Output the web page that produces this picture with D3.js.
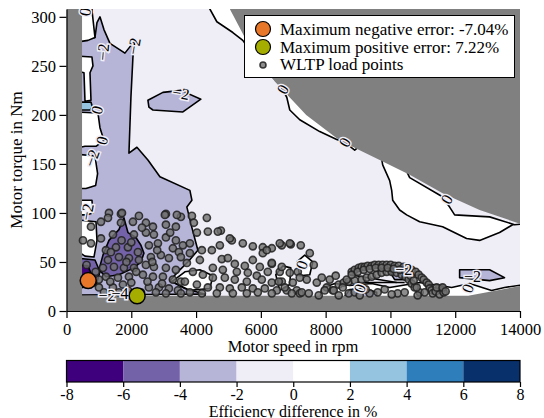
<!DOCTYPE html>
<html>
<head>
<meta charset="utf-8">
<title>Efficiency difference map</title>
<style>
body { margin: 0; background: #fff; }
text { font-family: "Liberation Serif", "Times New Roman", serif; fill: #000; }
.axis text { font-size: 16.5px; }
.axis .domain, .axis line { stroke: #000; stroke-width: 1.2px; }
.contour { stroke: #000; stroke-width: 1.6px; stroke-linejoin: round; }
.wltp { fill: #707070; fill-opacity: 0.8; stroke: #202020; stroke-width: 1.6px; stroke-opacity: 0.85; }
.clabel { font-size: 16px; paint-order: stroke; stroke: #efedf5; stroke-width: 3px; }
</style>
</head>
<body>
<script src="https://cdn.jsdelivr.net/npm/d3@7"></script>
<script>

// colour levels of the efficiency difference (in %)
var levels = [-8, -6, -4, -2, 0, 2, 4, 6, 8];
var levelColors = ["#3f007d", "#7462a9", "#b6b5d8", "#efedf5", "#ffffff", "#95c4e0", "#2f7ebc", "#08306b"];

// operating envelope of the motor (rpm / Nm)
var envSpeed     = [480, 4700, 5042, 5505, 6430, 7400, 8435, 9668, 10594, 11611, 12753, 14000];
var envMaxTorque = [330, 330, 308, 279, 234, 200, 174, 154, 139, 120, 103, 89];
var envMinSpeed  = [480, 12400, 14000];
var envMinTorque = [15.5, 15.5, 25.5];

// contour regions [rpm, Nm], band = mean value of the region
var lavenderLeft = [[260,274],[663,278],[879,279],[941,294],[1033,300],[1156,287],[1342,273],[1804,263],[2113,276],[2051,259],[1989,218],[1928,161],[2174,167],[2513,154],[2884,137],[3809,123],[3871,113],[3716,106],[3871,85],[4056,62],[3747,50],[3500,42],[3192,31],[3655,23],[4271,17],[4271,6],[260,6]];
var whiteTopLeft = [[262,317],[817,317],[786,307],[879,279],[663,276],[262,274]];
var whiteBand    = [[293,260],[786,259],[817,250],[725,243],[756,215],[571,214],[540,243],[293,245]];
var blueSpot     = [[293,213],[756,213],[800,208],[725,205],[293,205]];
var whiteLeft1   = [[293,203],[971,202],[1033,187],[1156,174],[910,168],[571,168],[293,166]];
var whiteLeft1b  = [[293,160],[880,158],[960,140],[900,128],[600,125],[293,125]];
var whiteLeft2   = [[293,113],[786,113],[817,100],[602,98],[293,98]];
var whiteLeft3   = [[293,93],[910,91],[941,72],[848,55],[571,56],[293,62]];
var purpleLow    = [[293,54],[879,52],[1033,40],[910,26],[293,23]];
var purpleCore   = [[293,47],[663,46],[786,36],[571,29],[293,29]];
var purpleBlob   = [[1002,42],[1126,57],[1311,72],[1619,83],[1773,95],[1897,80],[2143,75],[2298,67],[2390,59],[2298,50],[2082,44],[1619,37],[1218,35]];
var islandMid    = [[2513,215],[2976,223],[3531,225],[4148,216],[3593,203],[2668,205],[2544,208]];
var whiteEdge1   = [[4300,330],[4426,308],[4642,295],[5135,284],[5443,276],[5950,252],[6584,231],[6800,218],[6893,205],[7201,195],[7818,183],[8342,175],[8589,172],[8897,164],[9300,175],[9300,340],[4300,340]];
var whiteEdge2   = [[9500,200],[9761,149],[9977,133],[10039,123],[10070,113],[10285,103],[10501,98],[10902,91],[11611,86],[12351,74],[12753,72],[13369,80],[13771,88],[14500,95],[14500,200]];
var lightEdge    = [[10100,170],[10594,136],[11580,117],[11828,106],[11982,98],[13061,96],[13832,88],[14500,90],[14500,170]];
var whiteLow1    = [[3254,30],[3655,40],[4117,42],[4518,36],[4426,23],[3809,21]];
var whiteLow2    = [[6461,37],[6677,46],[6924,44],[6893,27],[6584,21]];
var whiteLow3    = [[7109,50],[7355,57],[7602,50],[7510,37],[7201,36]];
var whiteBottom  = [[7818,11],[7880,23],[8280,28],[8743,26],[9422,28],[9977,24],[10902,29],[11519,26],[11890,24],[12444,28],[13123,21],[13523,24],[14150,27],[14150,11]];
var lavLow1      = [[8589,15],[8743,22],[9206,23],[9576,19],[9576,11],[8589,11]];
var lavLow2      = [[9946,42],[10285,46],[10655,42],[10594,32],[10131,32]];
var lavLow3      = [[12136,42],[13061,42],[13523,34],[13061,31],[12136,34]];
var bottomStrip  = [[416,16.3],[4271,17.3],[4271,6],[416,6]];
var openLine1    = [[8743,37],[10193,29]];
var openLine2    = [[8897,29],[10440,29]];

var regions = [
  {band: -3, pts: lavenderLeft}, {band: 1, pts: whiteTopLeft}, {band: 1, pts: whiteBand},
  {band: 3, pts: blueSpot}, {band: 1, pts: whiteLeft1}, {band: 1, pts: whiteLeft1b},
  {band: 1, pts: whiteLeft2}, {band: 1, pts: whiteLeft3}, {band: -5, pts: purpleLow},
  {band: -7, pts: purpleCore}, {band: -5, pts: purpleBlob}, {band: -3, pts: islandMid},
  {band: 1, pts: whiteEdge1}, {band: 1, pts: whiteEdge2}, {band: -1, pts: lightEdge},
  {band: 1, pts: whiteLow1}, {band: 1, pts: whiteLow2}, {band: 1, pts: whiteLow3},
  {band: 1, pts: whiteBottom}, {band: -3, pts: lavLow1}, {band: -3, pts: lavLow2},
  {band: -3, pts: lavLow3}, {band: -1, pts: bottomStrip}
];
var openLines = [openLine1, openLine2];

// contour labels
var labelSpeed  = [571, 1126, 2082, 3531, 6677, 8589, 11735, 786, 941, 1095, 632, 1249, 1650, 7263, 9052, 10409, 12537, 12382];
var labelTorque = [305, 264, 270, 222, 226, 172, 114, 156, 205, 174, 101, 16, 18, 47, 23, 42, 35, 23];
var labelText   = ["0","\u22122","\u22122","\u22122","0","0","0","\u22122","0","0","\u22122","\u22122","\u22124","0","0","\u22122","\u22122","0"];
var labelAngle  = [-80, -85, -80, 10, -60, -60, -60, -70, -75, -75, -80, 0, 0, -70, -70, 0, 0, -70];

// WLTP load points
var wltpSpeed = [
  1311,1681,2236,3069,3531,1064,1280,1681,2051,2452,2668,3069,3377,756,509,756,1064,1434,2082,2452,
  2698,3069,3377,3593,1218,1527,1897,2205,2544,2822,3284,3470,1280,1619,1928,2236,2606,2914,3161,3531,
  1126,1465,1773,2082,2452,2698,3069,3377,1218,1588,1928,2359,2668,2976,3284,3531,1002,1434,1742,2544,
  2853,3161,3439,1156,1619,2760,3069,3531,1370,1700,2000,2330,1850,2150,2500,2950,1350,1900,2300,2000,
  2650,2800,3200,620,900,1000,
  3871,4333,3932,4364,4765,4025,5104,5443,5752,6060,6338,6646,6924,6060,4734,4487,4179,3809,3809,4796,
  4981,4117,3716,5196,5505,5752,5968,6338,6584,6893,7140,6214,4518,4826,5258,5598,5875,3901,4210,4518,
  4888,5196,5567,6029,6338,6646,6985,3655,4025,4364,4734,5042,5412,5752,6122,6492,6800,7109,3809,4179,
  4641,5135,5567,5906,6338,6955,1712,3038,3408,4672,5042,6183,
  6584,6893,7232,7510,7633,6338,6646,7417,7726,8034,8219,7201,7201,9360,10224,6553,6738,7263,7479,7787,
  7972,8250,8404,8712,7880,8126,8311,
  8805,8897,9021,9114,9206,9299,9422,9515,9638,9761,9884,10008,10131,10255,10409,10532,10655,10779,10871,10964,
  11026,11118,11180,11211,11273,11488,11580,
  8404,8558,8712,8897,9114,9268,9422,9576,9730,9884,10039,10193,10347,10470,10563,10655,10748,10902,
  8527,8650,8805,8990,9175,9360,9545,9730,9915,10100,10285,10470,10624,10717,10810,
  11303,11396,11519,11642,11427,11611,11704,
  8897,9052,9237,9607,9822,10039,10440,10840,11057
];
var wltpTorque = [
  100,99,97,99,96,91,95,90,91,90,86,88,86,86,72,69,74,78,78,80,
  78,75,72,67,62,65,65,60,67,69,64,60,52,55,54,52,55,57,54,55,
  44,45,44,44,47,45,44,42,35,34,35,37,35,35,32,30,24,24,27,24,
  24,23,21,19,19,19,18,18,60,72,70,85,50,40,30,28,30,21,19,29,
  50,62,80,47,40,32,
  97,95,90,81,82,80,72,69,66,65,64,67,68,59,67,62,62,69,59,53,
  54,52,49,48,46,52,45,48,40,39,40,40,44,42,40,39,36,40,37,34,
  34,32,30,32,29,30,29,30,27,24,24,23,24,23,23,21,21,21,19,18,
  18,18,18,19,18,18,100,98,98,81,74,62,
  69,69,67,59,47,49,45,32,29,24,21,34,18,18,18,30,24,19,18,16,
  21,21,16,18,34,32,36,
  40,42,44,45,45,46,46,47,47,47,47,47,46,46,45,44,42,40,37,34,
  32,29,27,23,21,23,21,
  27,29,30,31,32,34,35,37,39,40,40,39,37,35,32,28,24,19,
  24,32,37,40,42,43,44,44,44,43,42,40,36,31,24,
  18,20,17,19,24,24,20,
  19,16,22,19,22,17,19,16,19
];

// extreme error markers
var maxNegPoint = [670, 31];
var maxPosPoint = [2180, 15.5];
var legendLabels = ["Maximum negative error: -7.04%", "Maximum positive error: 7.22%", "WLTP load points"];
var legendColors = ["#e8772a", "#a5ad00"];

var width = 544, height = 418;

var svg = d3.select("body").append("svg")
    .attr("width", width)
    .attr("height", height);

var x = d3.scaleLinear().domain([0, 14000]).range([66.5, 520]);
var y = d3.scaleLinear().domain([0, 308]).range([311, 9]);
var color = d3.scaleThreshold().domain(levels.slice(1, -1)).range(levelColors);

svg.append("clipPath").attr("id", "plotclip")
  .append("rect")
    .attr("x", x(0)).attr("y", y(308))
    .attr("width", x(14000) - x(0))
    .attr("height", y(0) - y(308));

var plot = svg.append("g").attr("clip-path", "url(#plotclip)");

var line = d3.line()
    .x(function(d) { return x(d[0]); })
    .y(function(d) { return y(d[1]); });

// base level (-2..0) everywhere
plot.append("rect")
    .attr("x", x(0)).attr("y", y(308))
    .attr("width", x(14000) - x(0))
    .attr("height", y(0) - y(308))
    .attr("fill", color(-1));

plot.selectAll("path.region")
    .data(regions)
    .enter().append("path")
    .attr("class", "region contour")
    .attr("d", function(d) { return line(d.pts) + "Z"; })
    .attr("fill", function(d) { return color(d.band); });

plot.selectAll("path.open")
    .data(openLines)
    .enter().append("path")
    .attr("class", "open contour")
    .attr("d", line)
    .attr("fill", "none");

// grey area outside the motor envelope
var env = envSpeed.map(function(s, i) { return [s, envMaxTorque[i]]; })
  .concat(envMinSpeed.map(function(s, i) { return [s, envMinTorque[i]]; }).reverse());
var outer = "M" + x(0) + "," + y(308) + "H" + x(14000) + "V" + y(0) + "H" + x(0) + "Z";
plot.append("path")
    .attr("d", outer + line(env) + "Z")
    .attr("fill", "#808080")
    .attr("fill-rule", "evenodd");

// load points
plot.selectAll("circle.wltp")
    .data(wltpSpeed)
    .enter().append("circle")
    .attr("class", "wltp")
    .attr("cx", function(d) { return x(d); })
    .attr("cy", function(d, i) { return y(wltpTorque[i]); })
    .attr("r", 3.6);

// contour labels
plot.selectAll("text.clabel")
    .data(labelText)
    .enter().append("text")
    .attr("class", "clabel")
    .attr("text-anchor", "middle")
    .attr("dominant-baseline", "central")
    .attr("transform", function(d, i) {
      return "translate(" + x(labelSpeed[i]) + "," + y(labelTorque[i]) + ") rotate(" + labelAngle[i] + ")";
    })
    .text(function(d) { return d; });

// extreme markers
svg.selectAll("circle.extreme")
    .data([maxNegPoint, maxPosPoint])
    .enter().append("circle")
    .attr("class", "extreme")
    .attr("cx", function(d) { return x(d[0]); })
    .attr("cy", function(d) { return y(d[1]); })
    .attr("r", 8)
    .attr("fill", function(d, i) { return legendColors[i]; })
    .attr("stroke", "#000")
    .attr("stroke-width", 1.5);

// axes
svg.append("g")
    .attr("class", "axis")
    .attr("transform", "translate(0," + y(0) + ")")
    .call(d3.axisBottom(x).tickValues(d3.range(0, 14001, 2000)).tickSize(7).tickPadding(5).tickSizeOuter(0).tickFormat(String));
svg.append("g")
    .attr("class", "axis")
    .attr("transform", "translate(" + x(0) + ",0)")
    .call(d3.axisLeft(y).tickValues(d3.range(0, 301, 50)).tickSize(7).tickPadding(3.5).tickSizeOuter(0).tickFormat(String));

svg.append("text")
    .attr("x", 293).attr("y", 352)
    .attr("text-anchor", "middle")
    .style("font-size", "16.5px")
    .text("Motor speed in rpm");

svg.append("text")
    .attr("transform", "translate(22,160) rotate(-90)")
    .attr("text-anchor", "middle")
    .style("font-size", "17px")
    .text("Motor torque in Nm");

// legend
var legend = svg.append("g");
legend.append("rect")
    .attr("x", 244.5).attr("y", 15.5)
    .attr("width", 270).attr("height", 62)
    .attr("fill", "#fff")
    .attr("stroke", "#000")
    .attr("stroke-width", 1);
legend.selectAll("text")
    .data(legendLabels)
    .enter().append("text")
    .attr("x", 280)
    .attr("y", function(d, i) { return 35 + i * 17.5; })
    .style("font-size", "17px")
    .text(function(d) { return d; });
legend.selectAll("circle.lm")
    .data(legendColors)
    .enter().append("circle")
    .attr("class", "lm")
    .attr("cx", 263)
    .attr("cy", function(d, i) { return 29 + i * 18; })
    .attr("r", 7.5)
    .attr("fill", function(d) { return d; })
    .attr("stroke", "#000")
    .attr("stroke-width", 1.2);
legend.append("circle")
    .attr("class", "wltp")
    .attr("cx", 263).attr("cy", 65)
    .attr("r", 3);

// colorbar
var cb = d3.scaleLinear().domain([-8, 8]).range([66.5, 520]);
var cbar = svg.append("g");
cbar.selectAll("rect.band")
    .data(levelColors)
    .enter().append("rect")
    .attr("class", "band")
    .attr("x", function(d, i) { return cb(levels[i]); })
    .attr("y", 360.5)
    .attr("width", function(d, i) { return cb(levels[i + 1]) - cb(levels[i]); })
    .attr("height", 21.5)
    .attr("fill", function(d) { return d; });
cbar.append("rect")
    .attr("x", cb(-8)).attr("y", 360.5)
    .attr("width", cb(8) - cb(-8)).attr("height", 21.5)
    .attr("fill", "none")
    .attr("stroke", "#000")
    .attr("stroke-width", 1.2);
var cbAxis = svg.append("g")
    .attr("class", "axis")
    .attr("transform", "translate(0,382)")
    .call(d3.axisBottom(cb).tickValues(levels).tickSize(5).tickPadding(1.5).tickFormat(String));
cbAxis.select(".domain").remove();
cbAxis.selectAll("text").style("font-size", "16px");

svg.append("text")
    .attr("x", 293).attr("y", 416.5)
    .attr("text-anchor", "middle")
    .style("font-size", "16px")
    .text("Efficiency difference in %");

// d3 axes set a sans-serif family on their groups: drop it so the serif rule applies
svg.selectAll(".axis").attr("font-family", null).attr("font-size", null);

</script>
</body>
</html>
